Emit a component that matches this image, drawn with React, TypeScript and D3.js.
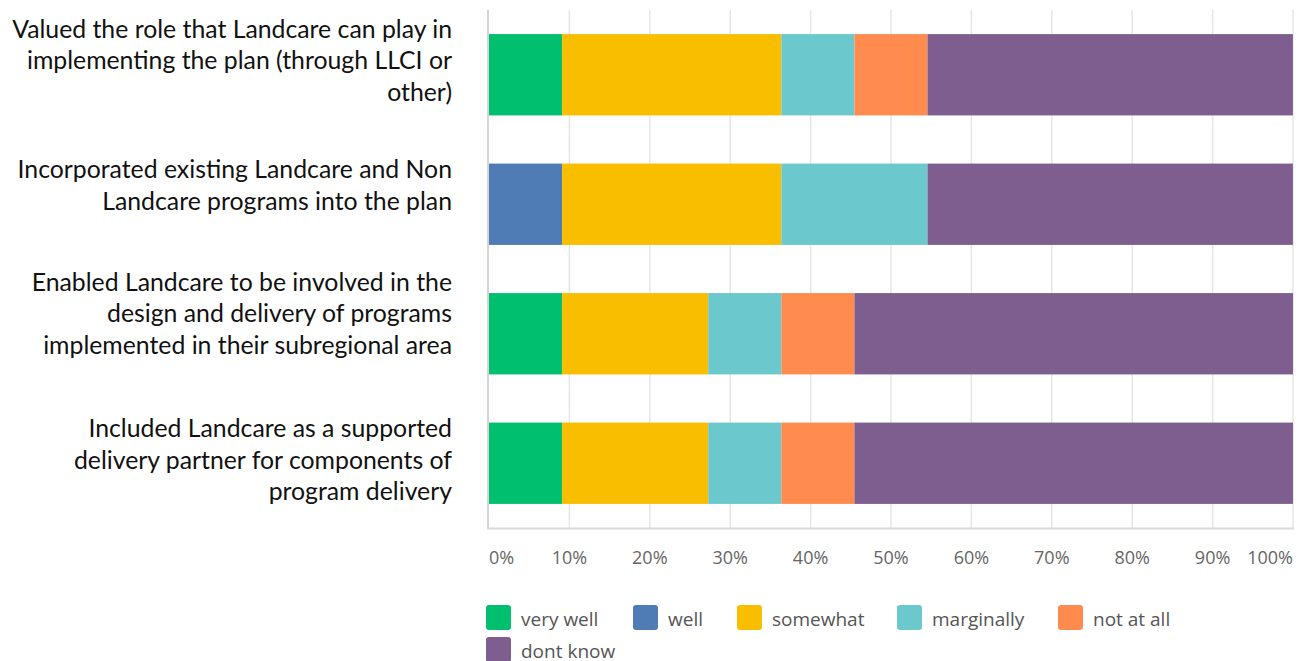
import React from "react";
import * as d3 from "d3";

const categories = ["q1", "q2", "q3", "q4"];
const categoryLines = [
  ["Valued the role that Landcare can play in", "implementing the plan (through LLCI or", "other)"],
  ["Incorporated existing Landcare and Non", "Landcare programs into the plan"],
  ["Enabled Landcare to be involved in the", "design and delivery of programs", "implemented in their subregional area"],
  ["Included Landcare as a supported", "delivery partner for components of", "program delivery"],
];
const seriesNames = ["very well", "well", "somewhat", "marginally", "not at all", "dont know"];
const veryWell = [9.09, 0, 9.09, 9.09];
const well = [0, 9.09, 0, 0];
const somewhat = [27.27, 27.27, 18.18, 18.18];
const marginally = [9.09, 18.18, 9.09, 9.09];
const notAtAll = [9.09, 0, 9.09, 9.09];
const dontKnow = [45.45, 45.45, 54.55, 54.55];
const tickValues = [0, 10, 20, 30, 40, 50, 60, 70, 80, 90, 100];

const colors = ["#00BF6F", "#507CB6", "#F9BE00", "#6BC8CD", "#FF8B4F", "#7D5E8F"];
// vertical offset of label block centre relative to bar centre (layout)
const labelOffsets = [-14, -19, -20, -3];

export default function App() {
  const W = 1309, H = 661;
  const x = d3.scaleLinear().domain([0, 100]).range([489, 1293]);
  const y = d3.scaleBand().domain(categories).range([10, 528]).paddingInner(0.372).paddingOuter(0.186);
  const rows = categories.map((c, i) => ({
    cat: c,
    "very well": veryWell[i],
    well: well[i],
    somewhat: somewhat[i],
    marginally: marginally[i],
    "not at all": notAtAll[i],
    "dont know": dontKnow[i],
  }));
  const stacked = d3.stack().keys(seriesNames)(rows as any);
  const lineH = 31.5;
  const legendPos = [
    { x: 486, y: 605 }, { x: 633, y: 605 }, { x: 737, y: 605 },
    { x: 897, y: 605 }, { x: 1058, y: 605 }, { x: 486, y: 637 },
  ];
  return (
    <svg width={W} height={H} style={{ position: "absolute", left: 0, top: 0, background: "#fff" }}>
      {/* gridlines */}
      {tickValues.slice(1).map((t) => (
        <line key={t} x1={x(t)} x2={x(t)} y1={10} y2={528} stroke="#e6e6e6" strokeWidth={1.5} />
      ))}
      {/* bars */}
      {stacked.map((s, si) =>
        s.map((d, i) => {
          const w = x(d[1]) - x(d[0]);
          if (w <= 0) return null;
          return (
            <rect key={si + "-" + i} x={x(d[0])} y={y(categories[i])} width={w} height={y.bandwidth()} fill={colors[si]} />
          );
        })
      )}
      {/* axes */}
      <line x1={488} x2={488} y1={10} y2={529} stroke="#d4d4d4" strokeWidth={2} />
      <line x1={487} x2={1294} y1={528.5} y2={528.5} stroke="#d9d9d9" strokeWidth={2} />
      {/* tick labels */}
      {tickValues.map((t, i) => (
        <text key={t} x={x(t)} y={558} dy="0.35em"
          textAnchor={i === 0 ? "start" : i === tickValues.length - 1 ? "end" : "middle"}
          fontFamily="'Open Sans', sans-serif" fontSize={18} fill="#666">{t}%</text>
      ))}
      {/* category labels */}
      {categoryLines.map((lines, i) => {
        const cy = (y(categories[i]) as number) + y.bandwidth() / 2 + labelOffsets[i];
        const start = cy - ((lines.length - 1) * lineH) / 2;
        return lines.map((ln, j) => (
          <text key={i + "-" + j} x={452} y={start + j * lineH} dy="0.35em" textAnchor="end"
            fontFamily="Lato, sans-serif" fontSize={24.8} fill="#111">{ln}</text>
        ));
      })}
      {/* legend */}
      {seriesNames.map((n, i) => (
        <g key={n} transform={`translate(${legendPos[i].x},${legendPos[i].y})`}>
          <rect width={25} height={25} rx={3} fill={colors[i]} />
          <text x={35} y={14} dy="0.35em" fontFamily="'Open Sans', sans-serif" fontSize={19} fill="#555">{n}</text>
        </g>
      ))}
    </svg>
  );
}
